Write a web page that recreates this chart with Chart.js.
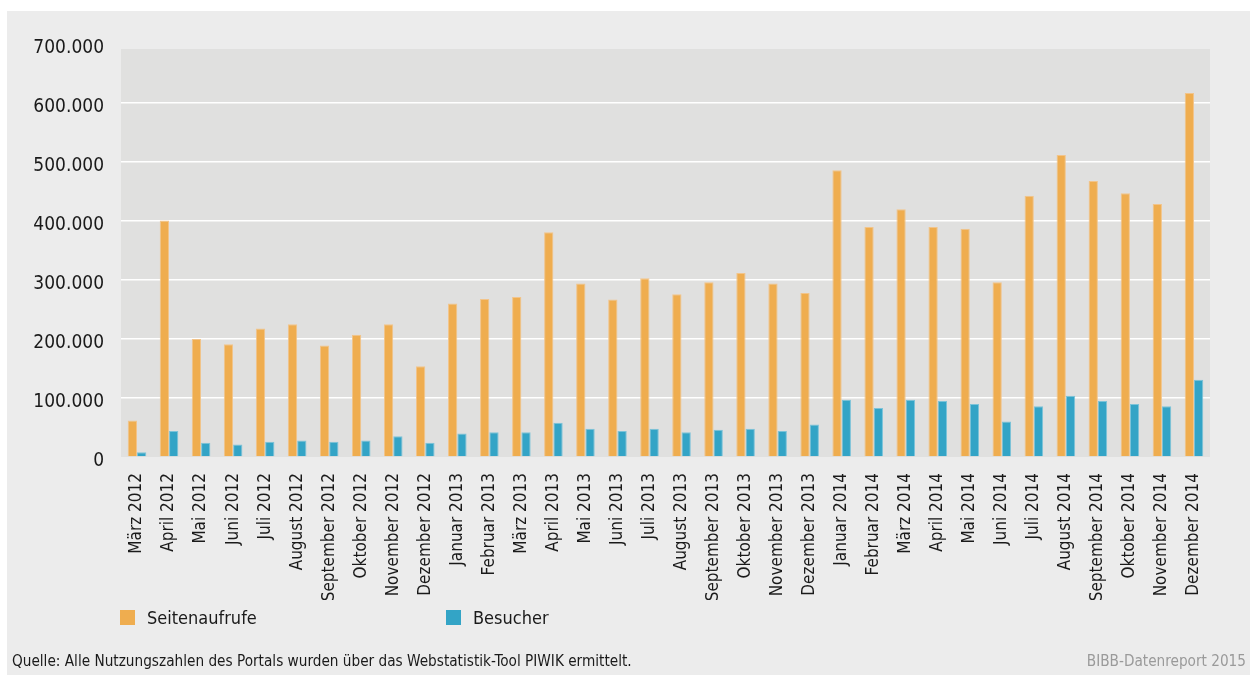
<!DOCTYPE html>
<html lang="de">
<head>
<meta charset="utf-8">
<title>Nutzungszahlen des Portals</title>
<script src="https://cdn.jsdelivr.net/npm/chart.js@4/dist/chart.umd.min.js"></script>
<style>
    html, body { margin: 0; padding: 0; background: #ffffff; }
    body { width: 1250px; height: 675px; position: relative; overflow: hidden;
           font-family: "DejaVu Sans Condensed", "DejaVu Sans", sans-serif; font-stretch: condensed; }
    .panel { position: absolute; left: 7px; top: 11px; right: 0; bottom: 0; background: #ececec; }
    .chart-box { position: absolute; left: 0; top: 0; width: 1250px; height: 675px; }
    .legend-item { position: absolute; top: 607px; font-size: 18px; color: #1a1a1a; line-height: 22px; }
    .legend-item i { position: absolute; left: -27px; top: 3px; width: 15px; height: 15px; }
    .source { position: absolute; left: 12px; top: 652px; font-size: 15.2px; color: #1a1a1a; }
    .brand { position: absolute; right: 4px; top: 652px; font-size: 15.2px; color: #9a9a9a; }
</style>
</head>
<body>
<div class="panel"></div>
<div class="chart-box"><canvas id="chart" width="1250" height="675"></canvas></div>
<div class="legend-item" style="left:147px"><i style="background:#efad4f"></i>Seitenaufrufe</div>
<div class="legend-item" style="left:473px"><i style="background:#33a4c6"></i>Besucher</div>
<div class="source">Quelle: Alle Nutzungszahlen des Portals wurden über das Webstatistik-Tool PIWIK ermittelt.</div>
<div class="brand">BIBB-Datenreport 2015</div>

<script>
const months = [
    "März 2012", "April 2012", "Mai 2012", "Juni 2012", "Juli 2012", "August 2012",
    "September 2012", "Oktober 2012", "November 2012", "Dezember 2012",
    "Januar 2013", "Februar 2013", "März 2013", "April 2013", "Mai 2013", "Juni 2013",
    "Juli 2013", "August 2013", "September 2013", "Oktober 2013", "November 2013", "Dezember 2013",
    "Januar 2014", "Februar 2014", "März 2014", "April 2014", "Mai 2014", "Juni 2014",
    "Juli 2014", "August 2014", "September 2014", "Oktober 2014", "November 2014", "Dezember 2014"
]

const seitenaufrufe = [
    62000, 401000, 200000, 191000, 218000, 225000, 189000, 207000, 225000, 154000,
    260000, 268000, 271000, 381000, 294000, 267000, 303000, 276000, 296000, 312000, 294000, 278000,
    486000, 390000, 420000, 390000, 387000, 296000, 443000, 512000, 468000, 447000, 429000, 617000
]

const besucher = [
    8000, 44000, 24000, 21000, 26000, 28000, 26000, 28000, 35000, 24000,
    40000, 42000, 42000, 58000, 48000, 44000, 48000, 42000, 46000, 48000, 44000, 55000,
    97000, 83000, 97000, 95000, 90000, 60000, 86000, 104000, 95000, 90000, 86000, 131000
]

const yTicks = [0, 100000, 200000, 300000, 400000, 500000, 600000, 700000]

const FONT = "'DejaVu Sans Condensed', 'DejaVu Sans', sans-serif"

const formatNumber = (value) => value === 0 ? "0" : value.toLocaleString("de-DE")

// grey plot background, starting a bit below the 700.000 line like the original
const plotBackground = {
    id: "plotBackground",
    beforeDraw(chart){
        const { ctx, chartArea, scales } = chart
        const top = scales.y.getPixelForValue(691500)
        ctx.save()
        ctx.fillStyle = "#e0e0df"
        ctx.fillRect(chartArea.left, top, chartArea.right - chartArea.left, chartArea.bottom - top)
        ctx.restore()
    }
}

new Chart(document.getElementById("chart"), {
    type: "bar",
    data: {
        labels: months,
        datasets: [{
            label: "Seitenaufrufe",
            data: seitenaufrufe,
            backgroundColor: "#efad4f",
            borderColor: "#f2c48a",
            borderWidth: 1
        }, {
            label: "Besucher",
            data: besucher,
            backgroundColor: "#33a4c6",
            borderColor: "#7cc3d9",
            borderWidth: 1
        }]
    },
    options: {
        responsive: false,
        animation: false,
        events: [],
        layout: { padding: { top: 44, right: 40, bottom: 75, left: 0 } },
        datasets: { bar: { categoryPercentage: 0.58, barPercentage: 1 } },
        plugins: { legend: { display: false }, tooltip: { enabled: false } },
        scales: {
            x: {
                grid: { display: false },
                border: { display: false },
                ticks: {
                    autoSkip: false,
                    minRotation: 90,
                    maxRotation: 90,
                    padding: 8,
                    color: "#1a1a1a",
                    font: { family: FONT, size: 17 }
                },
                afterFit(scale){ scale.height = 143 }
            },
            y: {
                min: 0,
                max: 700000,
                afterBuildTicks(scale){ scale.ticks = yTicks.map(value => ({ value })) },
                grid: {
                    drawTicks: false,
                    lineWidth: 1.5,
                    color: (ctx) => (ctx.tick && (ctx.tick.value === 0 || ctx.tick.value === 700000)) ? "rgba(0,0,0,0)" : "#ffffff"
                },
                border: { display: false },
                ticks: {
                    padding: 17,
                    labelOffset: 4,
                    color: "#1a1a1a",
                    font: { family: FONT, size: 19 },
                    callback: (value) => formatNumber(value)
                },
                afterFit(scale){ scale.width = 121 }
            }
        }
    },
    plugins: [plotBackground]
})
</script>
</body>
</html>
